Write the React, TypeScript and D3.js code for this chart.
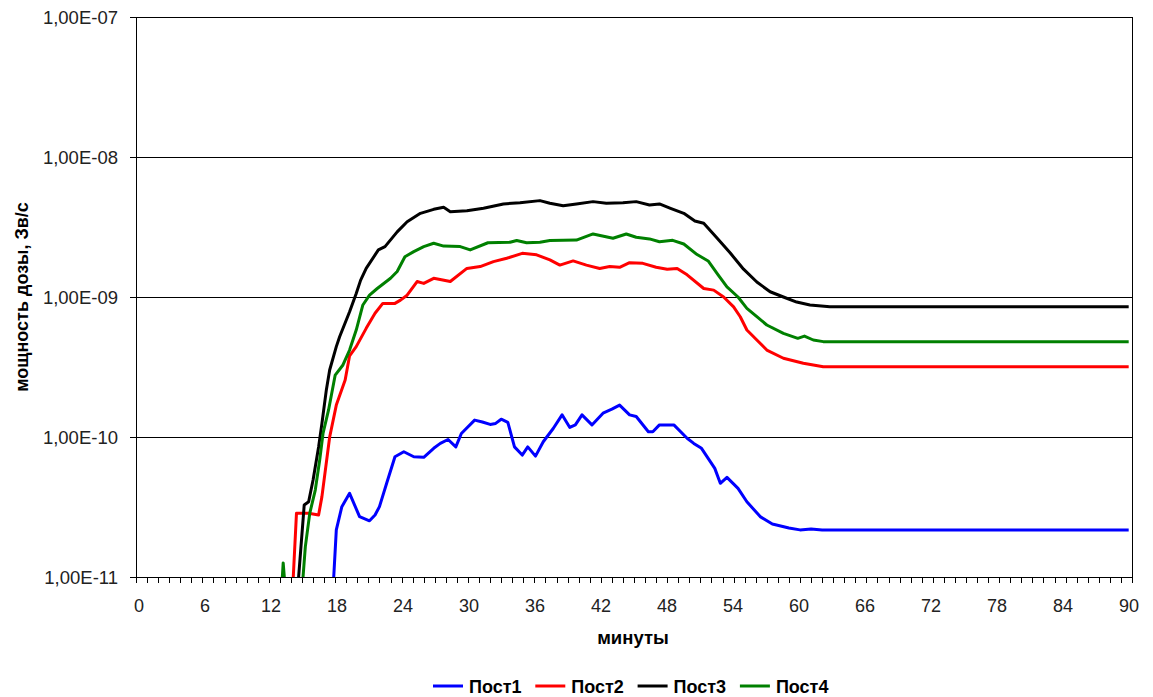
import React from "react";
import * as d3 from "d3";

const width = 1153;
const height = 697;
const margin = { top: 17, right: 21, bottom: 120, left: 136 };

// x axis: minutes, labels every 6, minor ticks every minute
const xLabelTicks = d3.range(0, 91, 6);
const xMinorTicks = d3.range(0, 91, 1);
// y axis: dose rate, log scale
const yTicks = [1e-11, 1e-10, 1e-9, 1e-8, 1e-7];
const yTickLabels = ["1,00E-11", "1,00E-10", "1,00E-09", "1,00E-08", "1,00E-07"];

const seriesNames = ["Пост1", "Пост2", "Пост3", "Пост4"];
const seriesColors = ["#0000ff", "#ff0000", "#000000", "#008000"];

// [minute, Sv/s]
const post1 = [
  [17.8, 8e-12], [18.1, 2.17e-11], [18.6, 3.18e-11], [19.3, 3.96e-11], [20.2, 2.7e-11],
  [21.1, 2.52e-11], [21.6, 2.77e-11], [22.0, 3.18e-11], [22.65, 4.67e-11], [23.4, 7.23e-11],
  [24.2, 7.85e-11], [25.1, 7.23e-11], [26.0, 7.16e-11], [26.9, 8.3e-11], [27.5, 9.0e-11],
  [28.2, 9.6e-11], [28.9, 8.5e-11], [29.4, 1.06e-10], [30.6, 1.32e-10], [31.3, 1.28e-10],
  [32.0, 1.23e-10], [32.5, 1.25e-10], [33.0, 1.34e-10], [33.6, 1.27e-10], [34.2, 8.5e-11],
  [34.9, 7.43e-11], [35.4, 8.5e-11], [36.1, 7.3e-11], [36.8, 9.25e-11], [37.7, 1.15e-10],
  [38.5, 1.44e-10], [39.2, 1.17e-10], [39.7, 1.22e-10], [40.3, 1.44e-10], [41.2, 1.22e-10],
  [42.2, 1.48e-10], [43.0, 1.58e-10], [43.7, 1.69e-10], [44.6, 1.44e-10], [45.2, 1.4e-10],
  [46.3, 1.09e-10], [46.7, 1.09e-10], [47.3, 1.22e-10], [48.6, 1.22e-10], [49.8, 9.8e-11],
  [50.4, 9.0e-11], [51.1, 8.3e-11], [52.3, 5.97e-11], [52.8, 4.67e-11], [53.4, 5.15e-11],
  [54.4, 4.3e-11], [55.2, 3.45e-11], [56.4, 2.7e-11], [57.5, 2.39e-11], [59.0, 2.24e-11],
  [60.0, 2.17e-11], [61.0, 2.2e-11], [62.0, 2.17e-11], [89.7, 2.17e-11],
];

const post2 = [
  [14.15, 8e-12], [14.5, 2.85e-11], [15.6, 2.85e-11], [16.5, 2.77e-11], [16.8, 3.75e-11],
  [17.5, 1.0e-10], [18.1, 1.69e-10], [18.9, 2.55e-10], [19.3, 3.8e-10], [19.9, 4.42e-10],
  [20.8, 5.97e-10], [21.6, 7.65e-10], [22.3, 9.0e-10], [23.4, 9.0e-10], [23.9, 9.5e-10],
  [24.5, 1.03e-9], [25.4, 1.29e-9], [26.0, 1.25e-9], [26.9, 1.36e-9], [27.6, 1.33e-9],
  [28.4, 1.29e-9], [29.9, 1.6e-9], [31.1, 1.65e-9], [32.3, 1.79e-9], [33.5, 1.89e-9],
  [34.9, 2.05e-9], [36.2, 2.0e-9], [37.4, 1.84e-9], [38.3, 1.69e-9], [39.5, 1.81e-9],
  [40.7, 1.69e-9], [41.9, 1.6e-9], [42.8, 1.65e-9], [43.7, 1.63e-9], [44.6, 1.76e-9],
  [45.8, 1.74e-9], [47.0, 1.63e-9], [48.0, 1.58e-9], [48.9, 1.6e-9], [49.8, 1.44e-9],
  [51.3, 1.15e-9], [52.2, 1.12e-9], [53.1, 1.0e-9], [54.0, 8.5e-10], [54.6, 7.23e-10],
  [55.2, 5.81e-10], [56.1, 4.93e-10], [57.0, 4.18e-10], [58.5, 3.65e-10], [60.3, 3.36e-10],
  [62.1, 3.18e-10], [89.7, 3.18e-10],
];

const post3 = [
  [14.6, 8e-12], [15.2, 3.27e-11], [15.6, 3.45e-11], [16.0, 4.93e-11], [16.5, 8.5e-11],
  [16.8, 1.25e-10], [17.2, 2.17e-10], [17.5, 3.01e-10], [18.1, 4.42e-10], [18.4, 5.2e-10],
  [19.3, 7.85e-10], [19.9, 1.06e-9], [20.3, 1.32e-9], [20.8, 1.6e-9], [21.9, 2.17e-9],
  [22.5, 2.29e-9], [23.6, 2.92e-9], [24.5, 3.45e-9], [25.7, 3.96e-9], [26.9, 4.23e-9],
  [27.8, 4.37e-9], [28.4, 4.07e-9], [29.9, 4.13e-9], [31.4, 4.3e-9], [33.2, 4.62e-9],
  [34.7, 4.72e-9], [36.5, 4.88e-9], [37.4, 4.67e-9], [38.6, 4.49e-9], [39.8, 4.62e-9],
  [41.3, 4.8e-9], [42.5, 4.67e-9], [44.0, 4.72e-9], [45.2, 4.8e-9], [46.4, 4.54e-9],
  [47.3, 4.62e-9], [48.3, 4.3e-9], [49.5, 3.96e-9], [50.5, 3.49e-9], [51.3, 3.36e-9],
  [52.5, 2.64e-9], [53.7, 2.06e-9], [54.9, 1.58e-9], [56.1, 1.28e-9], [57.3, 1.09e-9],
  [58.5, 1.0e-9], [59.7, 9.2e-10], [60.9, 8.77e-10], [62.7, 8.53e-10], [89.7, 8.53e-10],
];

const post4 = [
  [13.15, 8e-12], [13.3, 1.26e-11], [13.5, 8e-12], [15.0, 8e-12], [15.3, 1.64e-11],
  [15.7, 2.85e-11], [16.2, 4.18e-11], [16.6, 6.85e-11], [16.9, 1.06e-10], [17.4, 1.56e-10],
  [18.0, 2.77e-10], [18.7, 3.27e-10], [19.3, 4.18e-10], [19.9, 5.81e-10], [20.5, 8.77e-10],
  [21.1, 1.03e-9], [21.8, 1.15e-9], [23.0, 1.36e-9], [23.6, 1.52e-9], [24.3, 1.94e-9],
  [25.1, 2.11e-9], [26.0, 2.29e-9], [26.9, 2.42e-9], [27.8, 2.31e-9], [29.3, 2.29e-9],
  [30.2, 2.17e-9], [31.8, 2.44e-9], [33.8, 2.46e-9], [34.4, 2.53e-9], [35.3, 2.44e-9],
  [36.5, 2.46e-9], [37.4, 2.53e-9], [39.8, 2.55e-9], [41.3, 2.82e-9], [43.1, 2.63e-9],
  [44.3, 2.82e-9], [45.2, 2.67e-9], [46.4, 2.6e-9], [47.3, 2.48e-9], [48.5, 2.54e-9],
  [49.5, 2.39e-9], [50.7, 2.01e-9], [51.7, 1.81e-9], [52.6, 1.44e-9], [53.4, 1.18e-9],
  [54.4, 1.0e-9], [55.2, 8.3e-10], [56.1, 7.23e-10], [57.0, 6.31e-10], [58.5, 5.5e-10],
  [59.8, 5.07e-10], [60.4, 5.26e-10], [61.2, 4.93e-10], [62.1, 4.8e-10], [89.7, 4.8e-10],
];

const allSeries = [post1, post2, post3, post4];

export default function App() {
  const innerWidth = width - margin.left - margin.right;
  const innerHeight = height - margin.top - margin.bottom;
  const x0 = margin.left;
  const y0 = margin.top;

  const xScale = d3.scaleLinear().domain([0, 90]).range([x0, x0 + innerWidth]);
  // excel puts the category labels a little inside the ends
  const xLabelScale = d3.scaleLinear().domain([0, 90]).range([x0 + 3, x0 + innerWidth - 3]);
  const yScale = d3.scaleLog().domain([1e-11, 1e-7]).range([y0 + innerHeight, y0]);

  const line = d3
    .line<number[]>()
    .x((d) => xScale(d[0]))
    .y((d) => yScale(d[1]));

  const font = "'Liberation Sans', Arial, sans-serif";
  const bottom = y0 + innerHeight;

  return (
    <svg
      width={width}
      height={height}
      style={{ position: "absolute", left: 0, top: 0, background: "#fff" }}
      fontFamily={font}
    >
      <defs>
        <clipPath id="plot">
          <rect x={x0} y={y0} width={innerWidth} height={innerHeight} />
        </clipPath>
      </defs>

      {/* gridlines + y ticks and labels */}
      {yTicks.map((t, i) => (
        <g key={i}>
          <line
            x1={x0 - 6}
            x2={x0 + innerWidth}
            y1={Math.round(yScale(t)) + 0.5}
            y2={Math.round(yScale(t)) + 0.5}
            stroke="#000"
          />
          <text
            x={118}
            y={yScale(t) + 7}
            textAnchor="end"
            fontSize={18.5}
            fill="#222"
          >
            {yTickLabels[i]}
          </text>
        </g>
      ))}

      {/* frame */}
      <line x1={x0 + 0.5} x2={x0 + 0.5} y1={y0} y2={bottom} stroke="#000" />
      <line
        x1={x0 + innerWidth + 0.5}
        x2={x0 + innerWidth + 0.5}
        y1={y0}
        y2={bottom}
        stroke="#000"
      />

      {/* series */}
      <g clipPath="url(#plot)">
        {allSeries.map((s, i) => (
          <path
            key={i}
            d={line(s) || ""}
            fill="none"
            stroke={seriesColors[i]}
            strokeWidth={3}
            strokeLinejoin="round"
          />
        ))}
      </g>

      {/* x axis minor ticks */}
      {xMinorTicks.map((t) => (
        <line
          key={t}
          x1={Math.round(xScale(t)) + 0.5}
          x2={Math.round(xScale(t)) + 0.5}
          y1={bottom}
          y2={bottom + 6}
          stroke="#000"
        />
      ))}
      {xLabelTicks.map((t) => (
        <text
          key={t}
          x={xLabelScale(t)}
          y={bottom + 35}
          textAnchor="middle"
          fontSize={18}
          fill="#222"
        >
          {t}
        </text>
      ))}

      {/* axis titles */}
      <text
        x={633}
        y={644}
        textAnchor="middle"
        fontSize={18.5}
        fontWeight="bold"
        fill="#000"
      >
        минуты
      </text>
      <text
        transform={`translate(28,${y0 + innerHeight / 2}) rotate(-90)`}
        textAnchor="middle"
        fontSize={18}
        fontWeight="bold"
        fill="#000"
      >
        мощность дозы, Зв/с
      </text>

      {/* legend */}
      {seriesNames.map((name, i) => (
        <g key={name} transform={`translate(${433 + i * 102.3},686)`}>
          <line x1={0} x2={30} y1={0} y2={0} stroke={seriesColors[i]} strokeWidth={3} />
          <text x={36} y={6.5} fontSize={18} fontWeight="bold" fill="#000">
            {name}
          </text>
        </g>
      ))}
    </svg>
  );
}
